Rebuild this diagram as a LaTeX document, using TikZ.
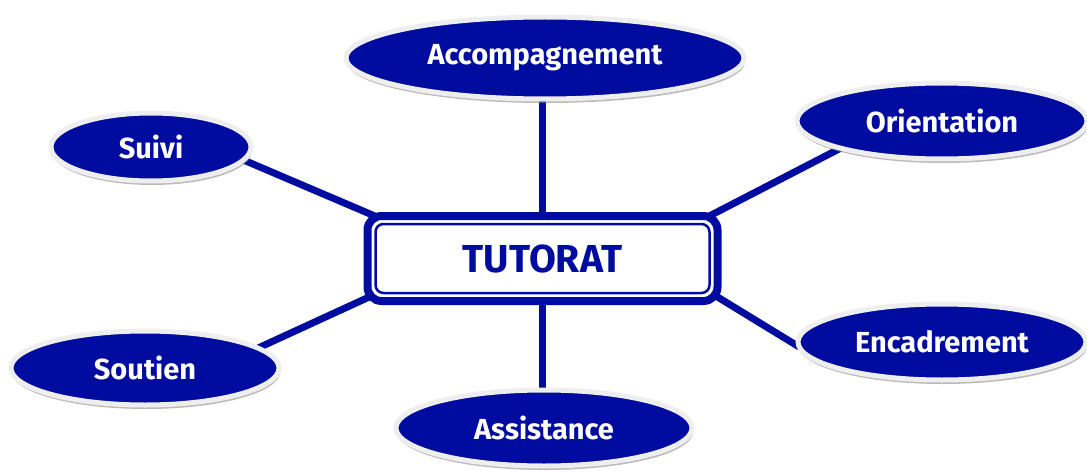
\documentclass[tikz,border=0pt]{standalone}
\usepackage{fontspec}
\setmainfont{Fira Sans}
\usetikzlibrary{shapes.geometric,shadows,backgrounds}
\definecolor{tblue}{RGB}{0,12,160}
\definecolor{rimgray}{RGB}{238,238,238}
\tikzset{
  leaf/.style={ellipse, fill=tblue, draw=rimgray, line width=5pt, inner sep=0pt, outer sep=0pt,
    text=white, font=\bfseries\fontsize{29}{32}\selectfont,
    drop shadow={shadow xshift=1pt, shadow yshift=-4pt, fill=black!45, opacity=0.6}},
  link/.style={draw=tblue, line width=7pt},
  hub/.style={rectangle, rounded corners=14pt, draw=tblue, fill=white, line width=8pt,
    outer sep=0pt, inner sep=0pt, minimum width=350pt, minimum height=85pt,
    text=tblue, font=\bfseries\fontsize{39}{42}\selectfont}
}
\begin{document}
\begin{tikzpicture}[x=1pt,y=-1pt]
\useasboundingbox (0,0) rectangle (1087,476);
\clip (0,0) rectangle (1087,476);
\node[hub] (box) at (542.5,258.5) {TUTORAT};
\draw[tblue, line width=2.5pt, rounded corners=8pt] ([shift={(8,8)}]box.north west) rectangle ([shift={(-8,-8)}]box.south east);
\node[leaf, minimum width=398pt, minimum height=82pt] (acc) at (545,58) {Accompagnement};
\node[leaf, minimum width=290pt, minimum height=76pt] (ori) at (942,121) {Orientation};
\node[leaf, minimum width=200pt, minimum height=68pt] (sui) at (151,147) {Suivi};
\node[leaf, minimum width=268pt, minimum height=74pt] (sou) at (145,368) {Soutien};
\node[leaf, minimum width=288pt, minimum height=76pt] (enc) at (942,342) {Encadrement};
\node[leaf, minimum width=296pt, minimum height=76pt] (ass) at (544,428) {Assistance};
\begin{pgfonlayer}{background}
\draw[link] (box.north) -- (box.north |- acc.south);
\draw[link] ([shift={(-12,2)}]box.north east) -- (ori.195);
\draw[link] ([shift={(12,2)}]box.north west) -- (sui.-8);
\draw[link] ([shift={(6,-6)}]box.south west) -- (sou.10);
\draw[link] ([shift={(0,-4)}]box.south east) -- (enc.182);
\draw[link] (box.south) -- (box.south |- ass.north);
\end{pgfonlayer}
\end{tikzpicture}
\end{document}
